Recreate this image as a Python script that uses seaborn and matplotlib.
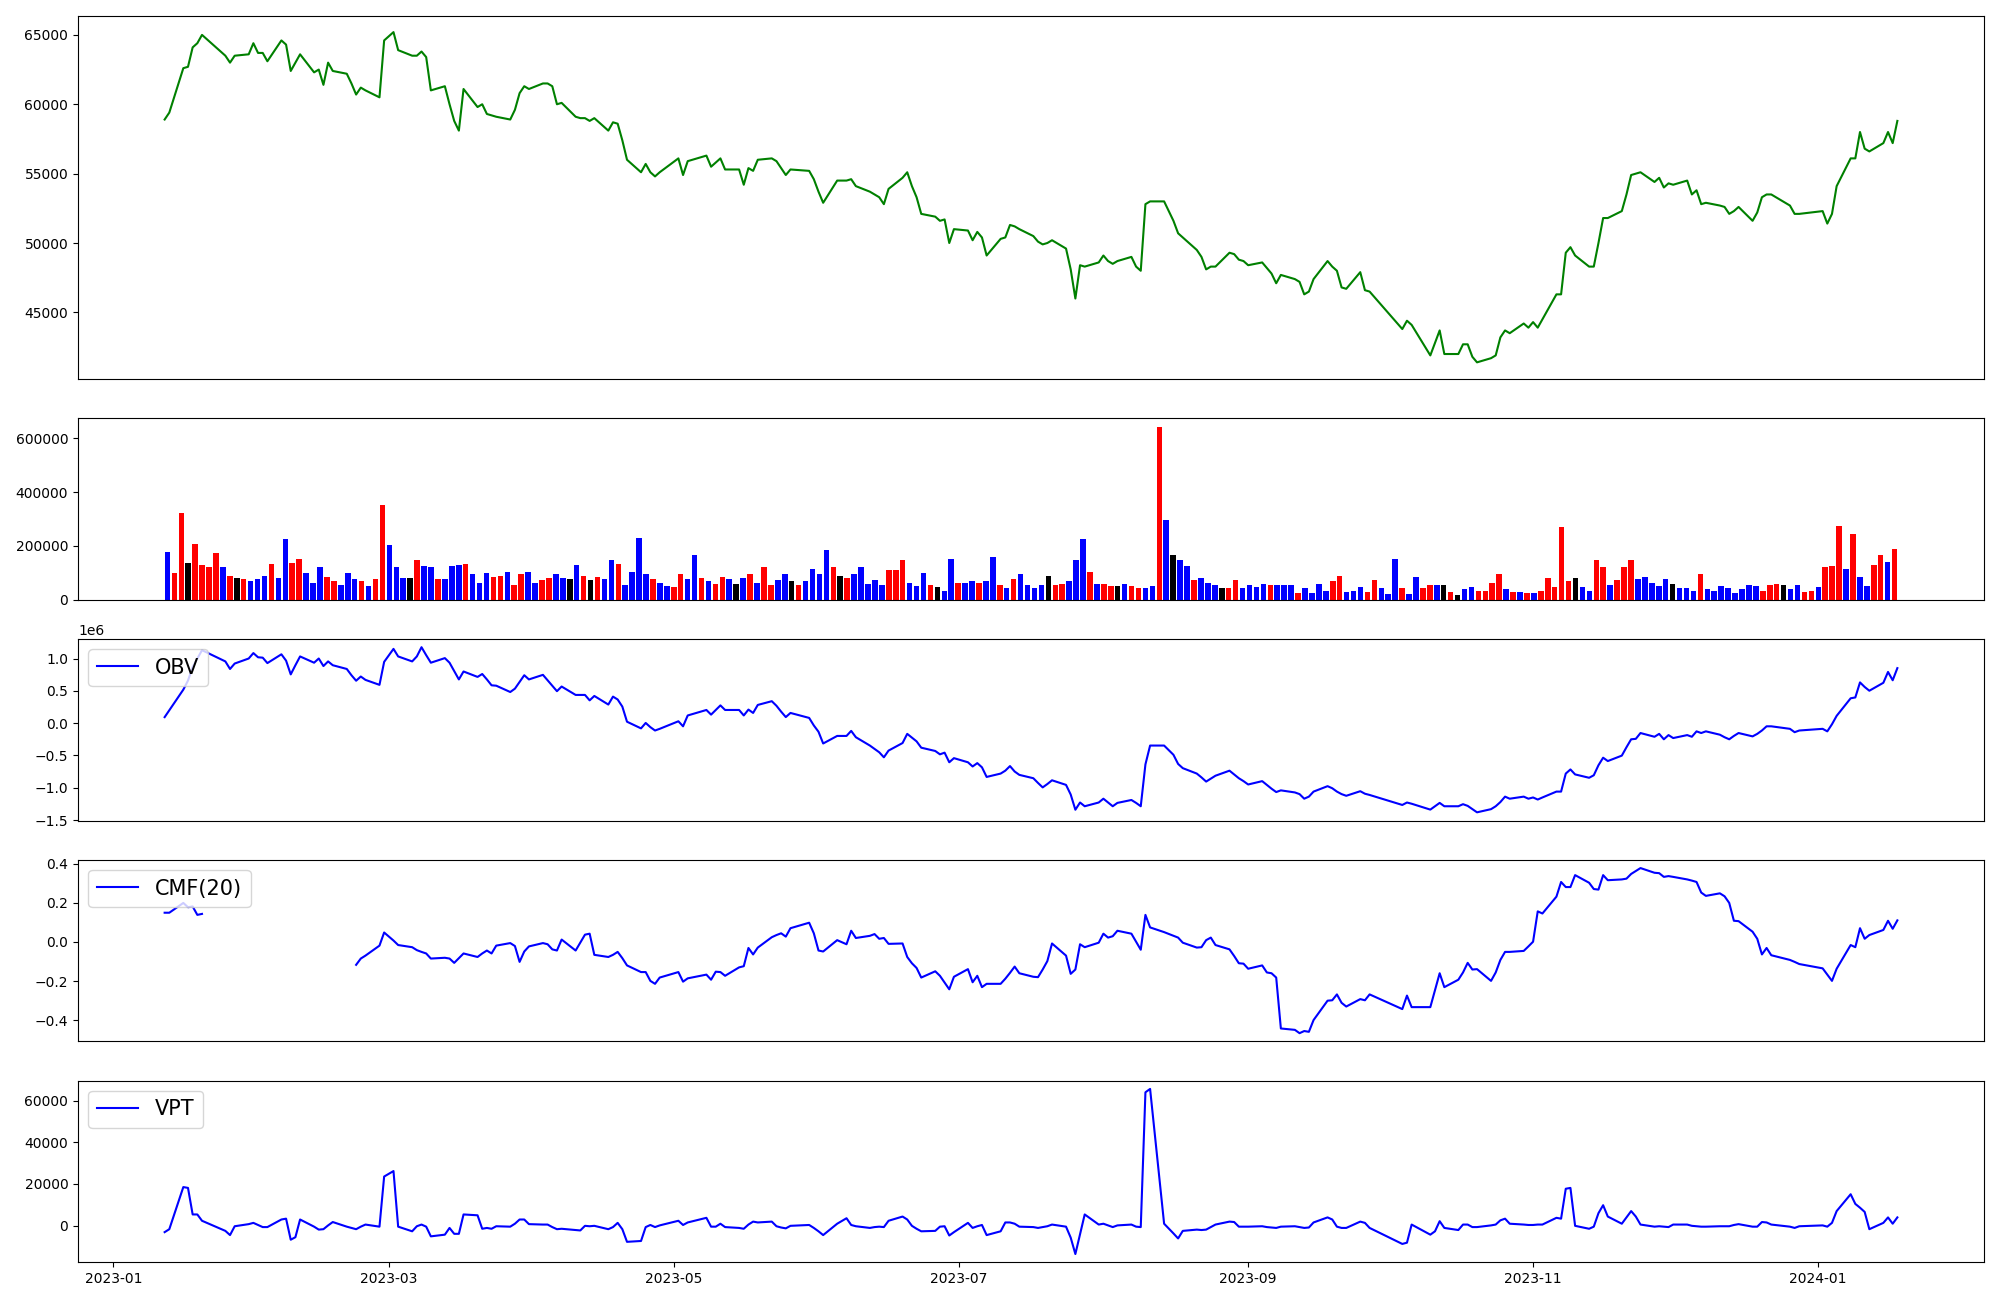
import numpy as np
import pandas as pd
import matplotlib
matplotlib.use("Agg")
import matplotlib.pyplot as plt
import matplotlib.dates as mdates
import seaborn as sns

# ---------------- data ----------------
start_date = "2023-01-12"
end_date = "2024-01-18"
krx_holidays = ["2023-01-23", "2023-01-24", "2023-03-01", "2023-05-01", "2023-05-05",
                "2023-05-29", "2023-06-06", "2023-08-15", "2023-09-28", "2023-09-29",
                "2023-10-02", "2023-10-03", "2023-10-09", "2023-12-25", "2023-12-29",
                "2024-01-01"]

close = [58900, 59400, 62600, 62700, 64100, 64400, 65000, 63500, 63000, 63500,
         63600, 64400, 63700, 63700, 63100, 64600, 64300, 62400, 63000, 63600,
         62300, 62500, 61400, 63000, 62400, 62200, 61500, 60700, 61200, 61000,
         60500, 64600, 65200, 63900, 63500, 63500, 63800, 63400, 61000, 61300,
         60000, 58800, 58100, 61100, 59800, 60000, 59300, 59200, 59100, 58900,
         59600, 60800, 61300, 61100, 61500, 61500, 61300, 60000, 60100, 59100,
         59000, 59000, 58800, 59000, 58100, 58700, 58600, 57400, 56000, 55100,
         55700, 55100, 54800, 55100, 56100, 54900, 55900, 56300, 55500, 55800,
         56100, 55300, 55300, 54200, 55400, 55200, 56000, 56100, 55900, 55400,
         54900, 55300, 55200, 54600, 53700, 52900, 54500, 54500, 54600, 54100,
         53700, 53500, 53300, 52800, 53900, 54700, 55100, 54100, 53300, 52100,
         51900, 51600, 51700, 50000, 51000, 50900, 50200, 50800, 50400, 49100,
         50300, 50400, 51300, 51200, 51000, 50500, 50100, 49900, 50000, 50200,
         49600, 48100, 46000, 48400, 48300, 48600, 49100, 48700, 48500, 48700,
         49000, 48300, 48000, 52800, 53000, 53000, 51600, 50700, 50400, 49500,
         49000, 48100, 48300, 48300, 49300, 49200, 48800, 48700, 48400, 48600,
         48200, 47800, 47100, 47700, 47400, 47200, 46300, 46500, 47400, 48700,
         48300, 48000, 46800, 46700, 47900, 46600, 46500, 43800, 44400, 44100,
         41900, 42800, 43700, 42000, 42000, 42700, 42700, 41800, 41400, 41700,
         41900, 43200, 43700, 43500, 44200, 43900, 44300, 43900, 44500, 46300,
         46300, 49300, 49700, 49100, 48300, 48300, 50000, 51800, 51800, 52300,
         53500, 54900, 55000, 55100, 54400, 54700, 54000, 54300, 54200, 54500,
         53500, 53800, 52800, 52900, 52700, 52600, 52100, 52300, 52600, 51600,
         52200, 53300, 53500, 53500, 52700, 52100, 52100, 52300, 51400, 52100,
         54100, 56100, 56100, 58000, 56800, 56600, 57200, 58000, 57200, 58800]

volume = [176000, 101000, 324000, 137000, 208000, 130000, 120000, 172000, 123000, 90000,
          82000, 78000, 71000, 78000, 90000, 134000, 82000, 227000, 137000, 153000,
          101000, 64000, 123000, 85000, 68000, 56000, 101000, 78000, 68000, 52000,
          78000, 353000, 205000, 120000, 82000, 82000, 146000, 127000, 120000, 78000,
          78000, 127000, 130000, 134000, 97000, 64000, 101000, 85000, 90000, 104000,
          56000, 97000, 104000, 64000, 75000, 82000, 94000, 82000, 78000, 130000,
          90000, 75000, 85000, 78000, 149000, 134000, 56000, 104000, 231000, 94000,
          78000, 64000, 52000, 49000, 94000, 78000, 168000, 82000, 68000, 59000,
          85000, 78000, 59000, 82000, 97000, 64000, 123000, 56000, 75000, 97000,
          71000, 56000, 71000, 116000, 97000, 186000, 120000, 90000, 82000, 94000,
          123000, 59000, 75000, 56000, 111000, 111000, 146000, 64000, 52000, 101000,
          56000, 49000, 33000, 153000, 64000, 64000, 68000, 64000, 68000, 160000,
          56000, 42000, 78000, 94000, 56000, 45000, 56000, 90000, 56000, 59000,
          71000, 149000, 227000, 104000, 59000, 59000, 52000, 52000, 59000, 52000,
          45000, 45000, 52000, 643000, 298000, 168000, 149000, 127000, 75000, 82000,
          64000, 56000, 42000, 45000, 75000, 45000, 56000, 49000, 59000, 56000,
          56000, 56000, 56000, 26000, 42000, 26000, 59000, 33000, 71000, 90000,
          30000, 33000, 49000, 30000, 75000, 42000, 23000, 153000, 42000, 23000,
          85000, 45000, 56000, 56000, 56000, 30000, 19000, 38000, 49000, 33000,
          33000, 64000, 97000, 38000, 30000, 30000, 26000, 26000, 33000, 82000,
          49000, 272000, 71000, 82000, 49000, 33000, 149000, 123000, 56000, 75000,
          123000, 146000, 78000, 85000, 64000, 52000, 78000, 59000, 45000, 45000,
          33000, 94000, 38000, 33000, 52000, 45000, 26000, 38000, 56000, 52000,
          33000, 56000, 59000, 56000, 38000, 56000, 30000, 33000, 49000, 120000,
          127000, 275000, 116000, 246000, 85000, 52000, 130000, 168000, 139000, 189000]

# candle colour of each volume bar: r = up, b = down, k = unchanged
bar_dir = list("brrkrrrrbr" "krbbbrbbrr" "bbbrrbbbrb" "rrbbbkrbbr" "bbbrbbbrrb"
               "rrbbrrbbkb" "rkrbbrbbbb" "rbbrrbbrbr" "rbkbrbrrbb" "krbbbbrkrb"
               "bbbbrrrbbb" "rkbbrbbrbb" "rbrbbbbkrr" "bbbrbrrkbr" "rbbrbkbbrb"
               "bbkrrbbbbr" "bbbrbbbbrr" "bbbrrbbbrb" "brrbkrkbbr" "rrrbrbrbrr"
               "rrrkbbrrbr" "rrbbbbbkbb" "brbbbbbbbb" "rrrkbbrrbr" "rrbrbbrrbr")

obv = [0.094, 0.20, 0.52, 0.66, 0.87, 1.00, 1.131, 0.957, 0.840, 0.924,
       1.002, 1.086, 1.021, 1.015, 0.931, 1.067, 0.969, 0.756, 0.898, 1.034,
       0.937, 1.002, 0.885, 0.957, 0.898, 0.840, 0.743, 0.658, 0.723, 0.671,
       0.594, 0.950, 1.151, 1.034, 0.957, 1.034, 1.177, 1.054, 0.937, 1.008,
       0.937, 0.807, 0.678, 0.801, 0.717, 0.762, 0.678, 0.587, 0.581, 0.483,
       0.535, 0.639, 0.743, 0.678, 0.749, 0.665, 0.581, 0.496, 0.568, 0.438,
       0.438, 0.438, 0.354, 0.422, 0.289, 0.412, 0.367, 0.257, 0.023, -0.080,
       0.004, -0.061, -0.113, -0.087, 0.030, -0.048, 0.120, 0.205, 0.133, 0.205,
       0.276, 0.205, 0.205, 0.120, 0.211, 0.159, 0.283, 0.341, 0.270, 0.179,
       0.095, 0.159, 0.082, -0.035, -0.132, -0.314, -0.197, -0.197, -0.119, -0.217,
       -0.346, -0.398, -0.450, -0.528, -0.424, -0.307, -0.165, -0.223, -0.281, -0.379,
       -0.430, -0.482, -0.456, -0.605, -0.541, -0.605, -0.670, -0.618, -0.683, -0.832,
       -0.780, -0.735, -0.664, -0.748, -0.800, -0.852, -0.925, -0.994, -0.942, -0.884,
       -0.955, -1.104, -1.340, -1.228, -1.286, -1.228, -1.169, -1.228, -1.286, -1.234,
       -1.189, -1.234, -1.286, -0.638, -0.346, -0.346, -0.489, -0.631, -0.696, -0.780,
       -0.839, -0.904, -0.858, -0.813, -0.735, -0.793, -0.852, -0.897, -0.949, -0.897,
       -0.955, -1.014, -1.066, -1.040, -1.072, -1.098, -1.169, -1.137, -1.059, -0.975,
       -1.007, -1.059, -1.098, -1.124, -1.053, -1.092, -1.111, -1.266, -1.228, -1.247,
       -1.338, -1.286, -1.234, -1.286, -1.286, -1.254, -1.280, -1.331, -1.380, -1.331,
       -1.286, -1.221, -1.137, -1.169, -1.137, -1.169, -1.150, -1.182, -1.150, -1.059,
       -1.059, -0.780, -0.716, -0.793, -0.845, -0.806, -0.651, -0.534, -0.586, -0.502,
       -0.372, -0.249, -0.242, -0.152, -0.210, -0.165, -0.249, -0.184, -0.230, -0.184,
       -0.210, -0.126, -0.152, -0.126, -0.178, -0.217, -0.249, -0.197, -0.152, -0.204,
       -0.165, -0.113, -0.048, -0.048, -0.087, -0.139, -0.113, -0.087, -0.126, -0.016,
       0.114, 0.386, 0.399, 0.632, 0.561, 0.503, 0.626, 0.794, 0.665, 0.853]
obv_scale = 1e6

nan = float("nan")
cmf = [0.149, 0.149, 0.199, 0.177, 0.181, 0.138, 0.143,
       nan, nan, nan, nan, nan, nan, nan, nan, nan, nan,
       nan, nan, nan, nan, nan, nan, nan, nan, nan, nan,
       -0.117, -0.085, -0.070,
       -0.019, 0.048, 0.007, -0.016, -0.027, -0.042, -0.051, -0.059, -0.085, -0.081,
       -0.085, -0.107, -0.083, -0.059, -0.077, -0.059, -0.044, -0.059, -0.019, -0.006,
       -0.021, -0.102, -0.049, -0.023, -0.006, -0.012, -0.038, -0.044, 0.012, -0.044,
       -0.004, 0.037, 0.042, -0.066, -0.077, -0.066, -0.051, -0.083, -0.120, -0.154,
       -0.154, -0.199, -0.214, -0.182, -0.154, -0.203, -0.186, -0.167, -0.193, -0.152,
       -0.154, -0.173, -0.130, -0.124, -0.031, -0.064, -0.029, 0.024, 0.035, 0.044,
       0.027, 0.070, 0.098, 0.044, -0.044, -0.049, 0.009, -0.012, 0.057, 0.020,
       0.031, 0.040, 0.016, 0.020, -0.010, -0.008, -0.077, -0.109, -0.133, -0.182,
       -0.150, -0.173, -0.208, -0.242, -0.178, -0.139, -0.206, -0.173, -0.231, -0.214,
       -0.214, -0.188, -0.158, -0.126, -0.160, -0.178, -0.180, -0.141, -0.098, -0.008,
       -0.070, -0.163, -0.141, -0.012, -0.027, -0.004, 0.042, 0.022, 0.029, 0.057,
       0.042, 0.001, -0.040, 0.138, 0.074, 0.050, 0.031, 0.022, -0.004, -0.029,
       -0.027, 0.009, 0.022, -0.016, -0.038, -0.072, -0.109, -0.111, -0.137, -0.120,
       -0.156, -0.160, -0.182, -0.442, -0.449, -0.466, -0.455, -0.459, -0.399, -0.300,
       -0.298, -0.268, -0.311, -0.330, -0.292, -0.298, -0.268, -0.343, -0.274, -0.333,
       -0.333, -0.247, -0.160, -0.231, -0.193, -0.156, -0.107, -0.141, -0.139, -0.199,
       -0.156, -0.092, -0.051, -0.051, -0.046, -0.023, 0.001, 0.156, 0.145, 0.231,
       0.306, 0.280, 0.280, 0.341, 0.302, 0.270, 0.267, 0.341, 0.315, 0.319,
       0.323, 0.347, 0.362, 0.377, 0.353, 0.351, 0.332, 0.336, 0.332, 0.319,
       0.313, 0.306, 0.252, 0.235, 0.248, 0.233, 0.199, 0.108, 0.106, 0.052,
       0.016, -0.064, -0.031, -0.068, -0.092, -0.102, -0.113, -0.135, -0.167, -0.199,
       -0.137, -0.016, -0.027, 0.070, 0.016, 0.035, 0.061, 0.108, 0.067, 0.110]

vpt = [-3182, -1762, 18517, 18112, 5336, 5336, 2294, -2573, -4601, -342,
       672, 1281, 267, -747, -747, 2903, 3308, -6832, -5616, 2903,
       -545, -1964, -1762, 63, 1687, -545, -1154, -1762, -545, 469,
       -545, 23588, 26225, -545, -2776, -342, 469, -545, -5209, -4398,
       -1154, -3993, -3993, 5336, 4930, -1559, -1154, -1559, -342, -545,
       875, 2903, 2903, 672, 469, 469, -747, -1762, -1559, -2168,
       -2371, -140, -342, -140, -1762, -747, 1281, -1762, -7846, -7440,
       -747, 267, -747, 63, 2294, 267, 1484, 3714, -545, -545,
       875, -747, -1154, -1559, 469, 1889, 1484, 1889, -342, -950,
       -1356, -140, 267, -1154, -2776, -4601, 875, 3511, 267, -342,
       -1154, -747, -545, -747, 2294, 4322, 2903, -140, -1559, -2776,
       -2573, -545, -342, -4804, -3182, 1281, -1154, -342, 267, -4601,
       -2776, 1484, 1484, 875, -545, -747, -1154, -747, -342, 469,
       -545, -5818, -13727, -4196, 5336, 469, 875, 63, -747, 63,
       469, -545, -747, 64148, 65770, 875, -3790, -6223, -2573, -1964,
       -2168, -1964, -747, 469, 1889, 1687, -545, -545, -545, -342,
       -747, -950, -1154, -545, -342, -747, -1154, -950, 1484, 3917,
       2903, -545, -1154, -1154, 1889, 1281, -1154, -8860, -8252, 469,
       -4398, -2776, 2092, -1154, -2168, 469, 469, -747, -747, 63,
       469, 2497, 3308, 875, 469, 267, 267, 469, 469, 3714,
       3308, 17709, 18112, -140, -1559, -545, 5944, 9791, 4322, 875,
       3917, 6958, 4322, 469, -545, -342, -545, -747, 469, 469,
       -140, -342, -545, -545, -342, -342, -342, 267, 672, -545,
       -545, 1687, 1484, 469, -545, -1154, -342, 63, -545, 1281,
       6958, 15070, 10406, 8581, 6553, -1762, 1281, 3917, 875, 3917]

# ---------------- figure ----------------
dates = pd.bdate_range(start_date, end_date, freq="C", holidays=krx_holidays)
n = len(dates)
assert n == len(close) == len(volume) == len(bar_dir) == len(obv) == len(cmf) == len(vpt), (
    n, len(close), len(volume), len(bar_dir), len(obv), len(cmf), len(vpt))

fig, axes = plt.subplots(5, 1, figsize=(20, 13), dpi=100,
                         gridspec_kw={"height_ratios": [2, 1, 1, 1, 1], "hspace": 0.18})
fig.subplots_adjust(left=0.039, right=0.992, top=0.988, bottom=0.029)
ax_p, ax_v, ax_o, ax_c, ax_t = axes

# price
sns.lineplot(x=dates, y=close, color="green", ax=ax_p)
ax_p.set_xticks([])

# volume bars (trading-day index on x)
dir_palette = {"r": "#ff0000", "b": "#0000ff", "k": "#000000"}
vol_df = pd.DataFrame({"idx": np.arange(n), "vol": volume, "dir": bar_dir})
sns.barplot(data=vol_df, x="idx", y="vol", hue="dir", palette=dir_palette,
            dodge=False, native_scale=True, errorbar=None, legend=False,
            width=0.8, saturation=1, ax=ax_v)
pad = 0.05 * (n - 0.2)
ax_v.set_xlim(-0.4 - pad, n - 1 + 0.4 + pad)
ax_v.set_xticks([])

# OBV
sns.lineplot(x=dates, y=np.array(obv) * obv_scale, color="blue", label="OBV", ax=ax_o)
ax_o.set_xticks([])
ax_o.legend(loc="upper left", fontsize=15)

# CMF(20) (missing values break the line)
cmf_arr = np.array(cmf, dtype=float)
valid = ~np.isnan(cmf_arr)
breaks = np.where(np.diff(valid.astype(int)) != 0)[0] + 1
first = True
for seg in np.split(np.arange(n), breaks):
    if not valid[seg[0]]:
        continue
    sns.lineplot(x=dates[seg], y=cmf_arr[seg], color="blue",
                 label="CMF(20)" if first else "_nolegend_", ax=ax_c)
    first = False
ax_c.set_xticks([])
ax_c.legend(loc="upper left", fontsize=15)

# VPT
sns.lineplot(x=dates, y=vpt, color="blue", label="VPT", ax=ax_t)
ax_t.legend(loc="upper left", fontsize=15)
ax_t.xaxis.set_major_locator(mdates.MonthLocator(bymonth=[1, 3, 5, 7, 9, 11]))
ax_t.xaxis.set_major_formatter(mdates.DateFormatter("%Y-%m"))

for ax in axes:
    ax.set_xlabel("")
    ax.set_ylabel("")

for ax in (ax_p, ax_o, ax_c):
    ax.set_xlim(ax_t.get_xlim())

fig.savefig("out.png", dpi=100)
